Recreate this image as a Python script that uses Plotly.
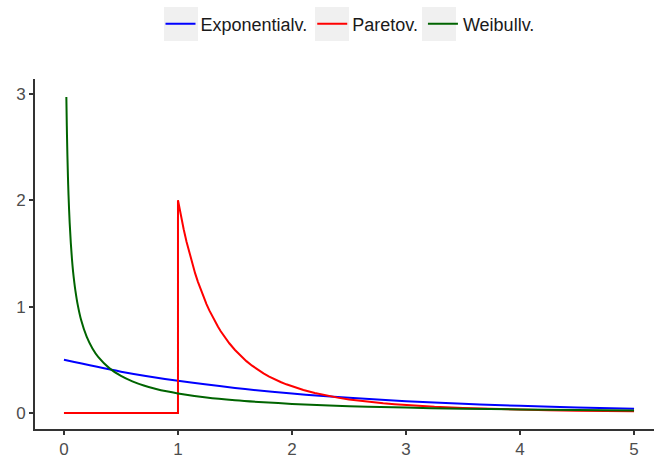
import plotly.graph_objects as go

# Exponential density
exp_x = [0.0, 0.5, 1.0, 1.5, 2.0, 2.5, 3.0, 3.5, 4.0, 4.5, 5.0]
exp_y = [0.500, 0.389, 0.303, 0.236, 0.184, 0.143, 0.112, 0.087, 0.068, 0.053, 0.041]

# Pareto density
par_x = [0.0, 1.0, 1.0, 1.025, 1.05, 1.075, 1.1, 1.125, 1.15, 1.175, 1.2, 1.225, 1.25,
         1.275, 1.3, 1.325, 1.35, 1.375, 1.4, 1.45, 1.5, 1.55, 1.6, 1.65, 1.7, 1.75, 1.8,
         1.85, 1.9, 1.95, 2.0, 2.1, 2.2, 2.3, 2.4, 2.5, 2.6, 2.7, 2.8, 2.9, 3.0, 3.25,
         3.5, 3.75, 4.0, 4.25, 4.5, 4.75, 5.0]
par_y = [0.0, 0.0, 2.000, 1.857, 1.728, 1.610, 1.503, 1.405, 1.315, 1.233, 1.157, 1.088,
         1.024, 0.965, 0.910, 0.860, 0.813, 0.769, 0.729, 0.656, 0.593, 0.537, 0.488,
         0.445, 0.407, 0.373, 0.343, 0.316, 0.292, 0.270, 0.250, 0.216, 0.188, 0.164,
         0.145, 0.128, 0.114, 0.102, 0.091, 0.082, 0.074, 0.058, 0.047, 0.038, 0.031,
         0.026, 0.022, 0.019, 0.016]

# Weibull density
wei_x = [0.021, 0.025, 0.03, 0.035, 0.04, 0.05, 0.06, 0.07, 0.08, 0.09, 0.1, 0.12, 0.15,
         0.2, 0.25, 0.3, 0.4, 0.5, 0.6, 0.7, 0.8, 0.9, 1.0, 1.25, 1.5, 1.75, 2.0, 2.5,
         3.0, 3.5, 4.0, 4.5, 5.0]
wei_y = [2.97, 2.70, 2.43, 2.22, 2.05, 1.79, 1.60, 1.45, 1.33, 1.235, 1.153, 1.021, 0.876,
         0.715, 0.607, 0.528, 0.420, 0.349, 0.298, 0.259, 0.229, 0.204, 0.184, 0.146,
         0.120, 0.101, 0.086, 0.065, 0.051, 0.041, 0.034, 0.028, 0.024]

series_names = ["Exponentialv.", "Paretov.", "Weibullv."]
series_colors = ["#0000ff", "#ff0000", "#006400"]
x_ticks = [0, 1, 2, 3, 4, 5]
y_ticks = [0, 1, 2, 3]

FONT = "Liberation Sans, Arial, sans-serif"

fig = go.Figure()
fig.add_trace(go.Scatter(x=exp_x, y=exp_y, mode="lines", name=series_names[0],
                         line=dict(color=series_colors[0], width=2, shape="spline")))
fig.add_trace(go.Scatter(x=par_x, y=par_y, mode="lines", name=series_names[1],
                         line=dict(color=series_colors[1], width=2)))
fig.add_trace(go.Scatter(x=wei_x, y=wei_y, mode="lines", name=series_names[2],
                         line=dict(color=series_colors[2], width=2, shape="spline")))

axis_common = dict(showgrid=False, zeroline=False, showline=True, linecolor="#333333",
                   linewidth=2, ticks="outside", ticklen=4, tickwidth=2, tickcolor="#333333",
                   tickfont=dict(family=FONT, size=17, color="#4d4d4d"))

# Grey legend key backgrounds (ggplot style), placed behind legend symbols
W, H = 654, 455
L, T, B = 35, 79, 26
plot_w, plot_h = W - L, H - T - B
key_left_px = [164, 315, 422]
shapes = []
for kx in key_left_px:
    shapes.append(dict(type="rect", xref="paper", yref="paper",
                       x0=(kx - L) / plot_w, x1=(kx + 34 - L) / plot_w,
                       y0=(H - B - 41) / plot_h, y1=(H - B - 7) / plot_h,
                       fillcolor="#f0f0f0", line=dict(width=0), layer="below"))

fig.update_layout(
    width=W, height=H,
    margin=dict(l=L, r=0, t=T, b=B, autoexpand=False),
    paper_bgcolor="white", plot_bgcolor="white",
    font=dict(family=FONT),
    xaxis=dict(range=[-0.254, 5.175], tickvals=x_ticks, automargin=False, **axis_common),
    yaxis=dict(range=[-0.15, 3.14], tickvals=y_ticks, automargin=False, **axis_common),
    shapes=shapes,
    showlegend=True,
    legend=dict(orientation="h", xref="container", yref="container",
                x=350 / W, xanchor="center", y=1 - 24 / H, yanchor="middle",
                font=dict(family=FONT, size=18, color="#1a1a1a"),
                bgcolor="rgba(0,0,0,0)", itemwidth=30, tracegroupgap=0),
)

fig.write_html("out.html")
